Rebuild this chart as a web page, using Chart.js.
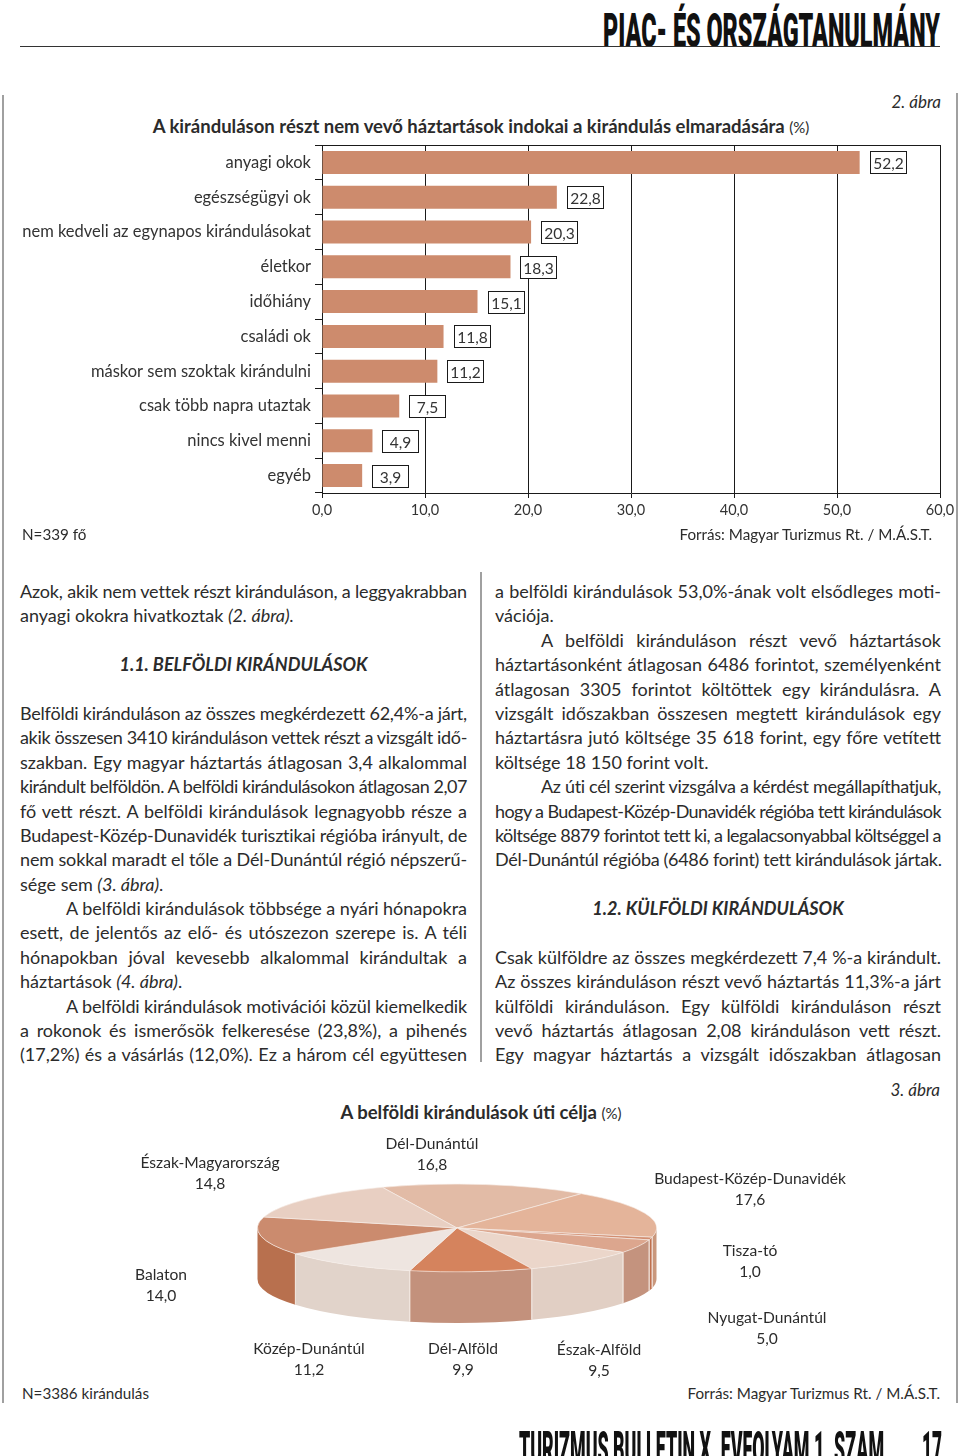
<!DOCTYPE html>
<html lang="hu">
<head>
<meta charset="utf-8">
<title>Piac- és országtanulmány</title>
<script src="https://cdn.jsdelivr.net/npm/chart.js@4.4.1/dist/chart.umd.min.js"></script>
<style>
  body {
    margin: 0;
    width: 960px;
    height: 1456px;
    position: relative;
    overflow: hidden;
    background: #fff;
    color: #2b2b2b;
    font-family: Lato, "Open Sans", sans-serif;
  }
  .abs { position: absolute; white-space: nowrap; }
  .t16 { font-size: 15.2px; line-height: 20px; }
  .title { font-weight: bold; font-size: 18.5px; line-height: 22px; text-align: center; }
  .title small { font-weight: normal; font-size: 15px; }
  .fig { font-style: italic; font-size: 17px; line-height: 20px; }
  .big { font-family: Roboto, sans-serif; font-weight: 900; font-size: 49px; line-height: 49px; color: #111; transform-origin: left top; }
  .vline { position: absolute; background: #a0a0a0; }
  .col { position: absolute; font-size: 18px; }
  .ln { height: 24.4px; line-height: 24.4px; white-space: nowrap; overflow: visible; }
  .ln.ind { padding-left: 46px; }
  .ln.h { text-align: center; font-weight: bold; font-style: italic; font-size: 18px; }
  .plabel { position: absolute; width: 240px; text-align: center; font-size: 15.6px; line-height: 20.5px; }
</style>
</head>
<body>

<!-- header -->
<div class="abs big" id="head" style="left:603px;top:6px">PIAC- ÉS ORSZÁGTANULMÁNY</div>
<div class="abs" style="left:20px;top:46px;width:920px;border-top:1px solid #333"></div>

<!-- frame -->
<div class="vline" style="left:2px;top:95px;width:2px;height:1308px"></div>
<div class="vline" style="left:956px;top:93px;width:2px;height:1310px"></div>
<div class="vline" style="left:480px;top:572px;width:2px;height:490px"></div>

<!-- figure 2 -->
<div class="abs fig" style="right:19px;top:92px">2. ábra</div>
<div class="abs title" style="left:0;width:962px;top:115px">A kiránduláson részt nem vevő háztartások indokai a kirándulás elmaradására <small>(%)</small></div>
<canvas id="barChart" width="960" height="400" style="position:absolute;left:0;top:130px"></canvas>
<div class="abs t16" style="left:22px;top:524px">N=339 fő</div>
<div class="abs t16" style="right:28px;top:524px">Forrás: Magyar Turizmus Rt. / M.Á.S.T.</div>

<!-- text columns -->
<div class="col" style="left:20px;top:579px;width:447px">
  <div class="ln j"><span>Azok, akik nem vettek részt kiránduláson, a leggyakrabban</span></div>
  <div class="ln"><span>anyagi okokra hivatkoztak <i>(2. ábra).</i></span></div>
  <div class="ln"></div>
  <div class="ln h">1.1. BELFÖLDI KIRÁNDULÁSOK</div>
  <div class="ln"></div>
  <div class="ln j"><span>Belföldi kiránduláson az összes megkérdezett 62,4%-a járt,</span></div>
  <div class="ln j"><span>akik összesen 3410 kiránduláson vettek részt a vizsgált idő-</span></div>
  <div class="ln j"><span>szakban. Egy magyar háztartás átlagosan 3,4 alkalommal</span></div>
  <div class="ln j"><span>kirándult belföldön. A belföldi kirándulásokon átlagosan 2,07</span></div>
  <div class="ln j"><span>fő vett részt. A belföldi kirándulások legnagyobb része a</span></div>
  <div class="ln j"><span>Budapest-Közép-Dunavidék turisztikai régióba irányult, de</span></div>
  <div class="ln j"><span>nem sokkal maradt el tőle a Dél-Dunántúl régió népszerű-</span></div>
  <div class="ln"><span>sége sem <i>(3. ábra)</i>.</span></div>
  <div class="ln j ind"><span>A belföldi kirándulások többsége a nyári hónapokra</span></div>
  <div class="ln j"><span>esett, de jelentős az elő- és utószezon szerepe is. A téli</span></div>
  <div class="ln j"><span>hónapokban jóval kevesebb alkalommal kirándultak a</span></div>
  <div class="ln"><span>háztartások <i>(4. ábra)</i>.</span></div>
  <div class="ln j ind"><span>A belföldi kirándulások motivációi közül kiemelkedik</span></div>
  <div class="ln j"><span>a rokonok és ismerősök felkeresése (23,8%), a pihenés</span></div>
  <div class="ln j"><span>(17,2%) és a vásárlás (12,0%). Ez a három cél együttesen</span></div>
</div>

<div class="col" style="left:495px;top:579px;width:446px">
  <div class="ln j"><span>a belföldi kirándulások 53,0%-ának volt elsődleges moti-</span></div>
  <div class="ln"><span>vációja.</span></div>
  <div class="ln j ind"><span>A belföldi kiránduláson részt vevő háztartások</span></div>
  <div class="ln j"><span>háztartásonként átlagosan 6486 forintot, személyenként</span></div>
  <div class="ln j"><span>átlagosan 3305 forintot költöttek egy kirándulásra. A</span></div>
  <div class="ln j"><span>vizsgált időszakban összesen megtett kirándulások egy</span></div>
  <div class="ln j"><span>háztartásra jutó költsége 35 618 forint, egy főre vetített</span></div>
  <div class="ln"><span>költsége 18 150 forint volt.</span></div>
  <div class="ln j ind"><span>Az úti cél szerint vizsgálva a kérdést megállapíthatjuk,</span></div>
  <div class="ln j"><span>hogy a Budapest-Közép-Dunavidék régióba tett kirándulások</span></div>
  <div class="ln j"><span>költsége 8879 forintot tett ki, a legalacsonyabbal költséggel a</span></div>
  <div class="ln"><span>Dél-Dunántúl régióba (6486 forint) tett kirándulások jártak.</span></div>
  <div class="ln"></div>
  <div class="ln h">1.2. KÜLFÖLDI KIRÁNDULÁSOK</div>
  <div class="ln"></div>
  <div class="ln j"><span>Csak külföldre az összes megkérdezett 7,4 %-a kirándult.</span></div>
  <div class="ln j"><span>Az összes kiránduláson részt vevő háztartás 11,3%-a járt</span></div>
  <div class="ln j"><span>külföldi kiránduláson. Egy külföldi kiránduláson részt</span></div>
  <div class="ln j"><span>vevő háztartás átlagosan 2,08 kiránduláson vett részt.</span></div>
  <div class="ln j"><span>Egy magyar háztartás a vizsgált időszakban átlagosan</span></div>
</div>

<!-- figure 3 -->
<div class="abs fig" style="right:20px;top:1080px">3. ábra</div>
<div class="abs title" style="left:0;width:962px;top:1101px">A belföldi kirándulások úti célja <small>(%)</small></div>
<canvas id="pieChart" width="400" height="400" style="position:absolute;left:257px;top:1028px"></canvas>
<div id="pieLabels"></div>
<div class="abs t16" style="left:22px;top:1383px">N=3386 kirándulás</div>
<div class="abs t16" style="right:20px;top:1383px">Forrás: Magyar Turizmus Rt. / M.Á.S.T.</div>

<!-- footer -->
<div class="abs big" id="foot" style="left:519px;top:1424px">TURIZMUS BULLETIN X. EVFOLYAM 1. SZAM</div>
<div class="abs big" id="pageNo" style="left:922px;top:1424px">17</div>

<script>
// figure 2 data
const reasons = [
  "anyagi okok",
  "egészségügyi ok",
  "nem kedveli az egynapos kirándulásokat",
  "életkor",
  "időhiány",
  "családi ok",
  "máskor sem szoktak kirándulni",
  "csak több napra utaztak",
  "nincs kivel menni",
  "egyéb"
];
const reasonShares = [52.2, 22.8, 20.3, 18.3, 15.1, 11.8, 11.2, 7.5, 4.9, 3.9];
const xTicks = [0, 10, 20, 30, 40, 50, 60];

// figure 3 data (clockwise from the top)
const regions = [
  "Dél-Dunántúl",
  "Budapest-Közép-Dunavidék",
  "Tisza-tó",
  "Nyugat-Dunántúl",
  "Észak-Alföld",
  "Dél-Alföld",
  "Közép-Dunántúl",
  "Balaton",
  "Észak-Magyarország"
];
const regionShares = [16.8, 17.6, 1.0, 5.0, 9.5, 9.9, 11.2, 14.0, 14.8];

// styles
const barColor = "#cd8b6d";
const topColors = ["#e2bba6", "#e4b49a", "#d28e71", "#dca68e", "#ebd6ca", "#d5835d", "#eee5e0", "#cb8b6e", "#e8cfc2"];
const sideColors = ["#c99a84", "#c9977c", "#bf6f4c", "#c4937e", "#e1cfc4", "#c3917c", "#e1d3ca", "#b8704e", "#cfa996"];
const labelX = [432, 750, 750, 767, 599, 463, 309, 161, 210];
const labelY = [1133, 1168, 1240, 1307, 1339, 1338, 1338, 1264, 1152];
const pieTilt = 0.22;
const pieDepth = 51;

const fmt = v => v.toFixed(1).replace(".", ",");

Chart.defaults.font.family = "Lato, 'Open Sans', sans-serif";
Chart.defaults.color = "#333";

// boxed value labels + top border of the plot
const valueBoxes = {
  id: "valueBoxes",
  afterDatasetsDraw(chart) {
    const ctx = chart.ctx;
    const area = chart.chartArea;
    ctx.save();
    ctx.strokeStyle = "#1a1a1a";
    ctx.lineWidth = 1;
    ctx.beginPath();
    ctx.moveTo(area.left, Math.round(area.top) + 0.5);
    ctx.lineTo(area.right, Math.round(area.top) + 0.5);
    ctx.stroke();

    ctx.font = "15.5px Lato, 'Open Sans', sans-serif";
    ctx.textAlign = "center";
    ctx.textBaseline = "middle";
    chart.getDatasetMeta(0).data.forEach((bar, i) => {
      const x = Math.round(bar.x) + 10.5;
      const y = Math.round(bar.y - 11) + 0.5;
      ctx.fillStyle = "#fff";
      ctx.fillRect(x, y, 36, 22);
      ctx.strokeRect(x, y, 36, 22);
      ctx.fillStyle = "#333";
      ctx.fillText(fmt(reasonShares[i]), x + 18, y + 12);
    });
    ctx.restore();
  }
};

new Chart(document.getElementById("barChart"), {
  type: "bar",
  data: {
    labels: reasons,
    datasets: [{
      data: reasonShares,
      backgroundColor: barColor,
      borderWidth: 0,
      barPercentage: 0.66,
      categoryPercentage: 1
    }]
  },
  options: {
    indexAxis: "y",
    responsive: false,
    animation: false,
    layout: { padding: { top: 15, right: 20, left: 0, bottom: 0 } },
    plugins: { legend: { display: false }, tooltip: { enabled: false } },
    scales: {
      x: {
        min: xTicks[0],
        max: xTicks[xTicks.length - 1],
        afterBuildTicks: s => { s.ticks = xTicks.map(v => ({ value: v })); },
        ticks: { callback: v => fmt(v), font: { size: 14.5 }, padding: 4, maxRotation: 0 },
        grid: { color: "#1a1a1a", lineWidth: 1, tickLength: 5 },
        border: { color: "#1a1a1a" },
        afterFit: s => { s.height = 37; }
      },
      y: {
        ticks: { font: { size: 16.5 }, padding: 4 },
        grid: { offset: true, drawOnChartArea: false, tickLength: 7, color: "#1a1a1a" },
        border: { color: "#1a1a1a" },
        afterFit: s => { s.width = 322; }
      }
    }
  },
  plugins: [valueBoxes]
});

// 3D look: draw the front wall, then squash the pie top
const pie3d = {
  id: "pie3d",
  beforeDatasetsDraw(chart) {
    const ctx = chart.ctx;
    const arcs = chart.getDatasetMeta(0).data;
    const cx = arcs[0].x, cy = arcs[0].y, r = arcs[0].outerRadius;
    const ry = r * pieTilt;
    ctx.save();
    arcs.forEach((arc, i) => {
      [0, 2 * Math.PI, -2 * Math.PI].forEach(shift => {
        const a = Math.max(arc.startAngle + shift, 0);
        const b = Math.min(arc.endAngle + shift, Math.PI);
        if (a >= b) return;
        ctx.beginPath();
        ctx.ellipse(cx, cy + pieDepth, r, ry, 0, a, b, false);
        ctx.lineTo(cx + r * Math.cos(b), cy + ry * Math.sin(b));
        ctx.ellipse(cx, cy, r, ry, 0, b, a, true);
        ctx.closePath();
        ctx.fillStyle = sideColors[i];
        ctx.fill();
        ctx.strokeStyle = "#f3e9e3";
        ctx.lineWidth = 1;
        [a, b].forEach(t => {
          if (t <= 0.001 || t >= Math.PI - 0.001) return;
          const px = cx + r * Math.cos(t), py = cy + ry * Math.sin(t);
          ctx.beginPath();
          ctx.moveTo(px, py);
          ctx.lineTo(px, py + pieDepth);
          ctx.stroke();
        });
      });
    });
    ctx.restore();
    ctx.save();
    ctx.translate(cx, cy);
    ctx.scale(1, pieTilt);
    ctx.translate(-cx, -cy);
  },
  afterDatasetsDraw(chart) {
    chart.ctx.restore();
  }
};

new Chart(document.getElementById("pieChart"), {
  type: "pie",
  data: {
    labels: regions,
    datasets: [{
      data: regionShares,
      backgroundColor: topColors,
      borderColor: "#f6eee9",
      borderWidth: 1,
      hoverOffset: 0
    }]
  },
  options: {
    responsive: false,
    animation: false,
    rotation: -22,
    layout: { padding: 0 },
    plugins: { legend: { display: false }, tooltip: { enabled: false } }
  },
  plugins: [pie3d]
});

// pie labels
const pieLabels = document.getElementById("pieLabels");
regions.forEach((name, i) => {
  const d = document.createElement("div");
  d.className = "plabel";
  d.style.left = (labelX[i] - 120) + "px";
  d.style.top = labelY[i] + "px";
  d.innerHTML = name + "<br>" + fmt(regionShares[i]);
  pieLabels.appendChild(d);
});

// justify the text lines like the printed page
function fitLine(el) {
  const span = el.querySelector("span");
  if (!span) return;
  const cs = getComputedStyle(el);
  const W = el.clientWidth - parseFloat(cs.paddingLeft) - parseFloat(cs.paddingRight);
  const txt = span.textContent;
  let w = span.getBoundingClientRect().width;
  if (w > W) {
    span.style.letterSpacing = ((W - w) / txt.length).toFixed(3) + "px";
    w = span.getBoundingClientRect().width;
  }
  if (el.classList.contains("j")) {
    const gaps = (txt.match(/ /g) || []).length;
    if (gaps) span.style.wordSpacing = ((W - w) / gaps).toFixed(3) + "px";
  }
}
document.querySelectorAll(".ln").forEach(fitLine);

function fitWidth(id, target) {
  const el = document.getElementById(id);
  const w = el.getBoundingClientRect().width;
  el.style.transform = "scaleX(" + (target / w).toFixed(4) + ")";
}
fitWidth("head", 337);
fitWidth("foot", 365);
fitWidth("pageNo", 20);
</script>
</body>
</html>
